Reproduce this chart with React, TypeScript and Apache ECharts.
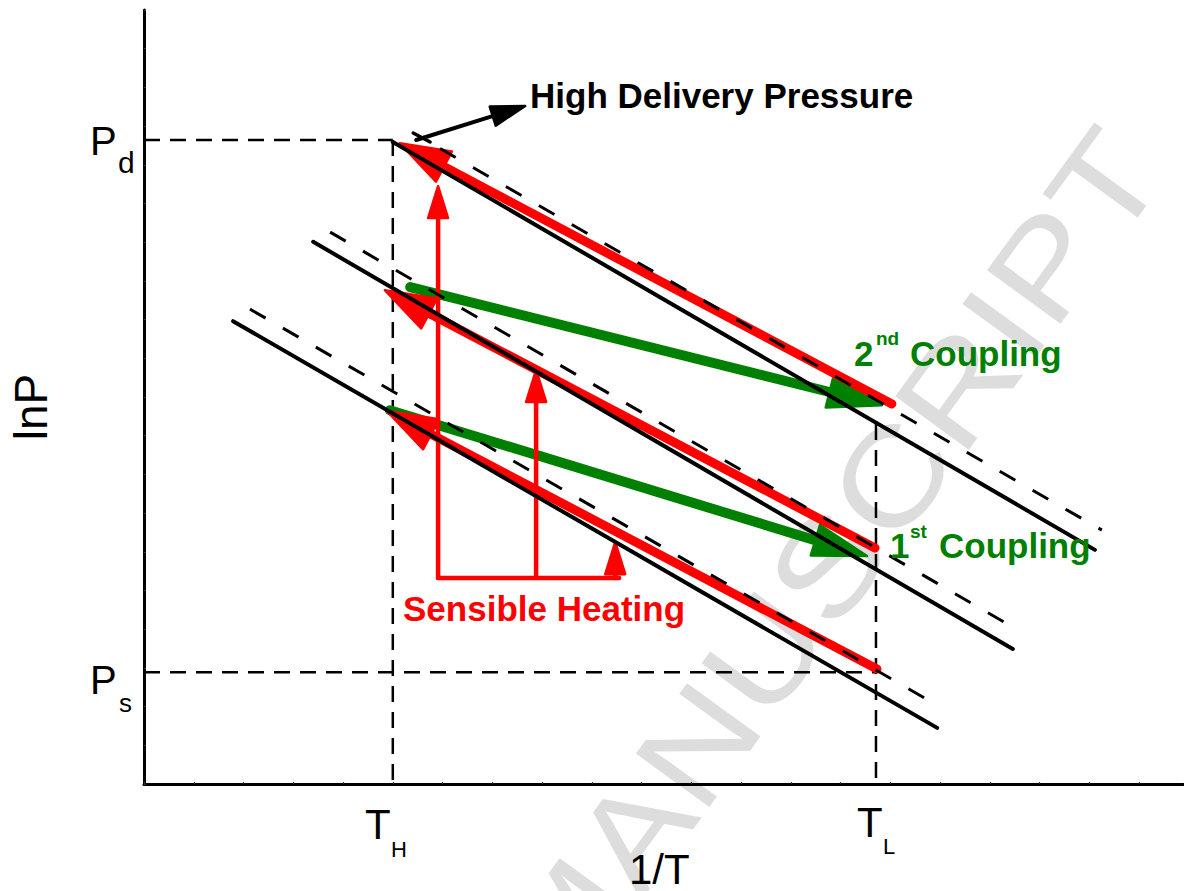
import React, { useEffect, useRef } from "react";
import * as echarts from "echarts";

// ---- data (axis units: 1/T on x, lnP on y) ----
const xTicks = { min: 0, max: 20.9, interval: 1 };
const yTicks = { min: 0, max: 20, interval: 1 };

// solid isosteres [x1, y1, x2, y2]
const isosteres = [
  [5.0, 16.59, 19.11, 6.05],
  [3.4, 14.01, 17.46, 3.49],
  [1.79, 11.96, 15.94, 1.45],
];
// dashed (shifted) isosteres
const shiftedIsosteres = [
  [5.95, 16.42, 19.25, 6.56],
  [3.74, 14.26, 17.56, 3.98],
  [2.13, 12.27, 16.0, 1.99],
];
// dashed guides: Pd, TH, Ps, TL
const Pd = 16.64;
const Ps = 2.89;
const TH = 5.0;
const TL = 14.71;
const guideLines = [
  [0, Pd, TH, Pd],
  [TH, Pd, TH, 0],
  [0, Ps, TL, Ps],
  [TL, 9.3, TL, 0],
];
// red thick arrows (tail -> tip)
const desorptionArrows = [
  [15.03, 9.82, 5.14, 16.56],
  [14.69, 6.1, 4.84, 12.76],
  [14.73, 2.97, 4.88, 9.64],
];
// green coupling arrows
const couplingArrows = [
  [5.35, 12.84, 14.83, 9.79],
  [4.94, 9.66, 14.53, 5.89],
];
// sensible heating arrows
const heatingArrows = [
  [5.91, 5.32, 5.91, 15.45],
  [7.88, 5.32, 7.88, 10.7],
  [9.47, 5.32, 9.47, 6.25],
];
const heatingBase = [[5.91, 5.32, 9.55, 5.32]];
// high delivery pressure pointer
const pressureArrow = [[5.47, 16.64, 7.66, 17.52]];
const pressureTick = [[5.41, 16.82, 5.75, 16.59]];

const FONT = '"Liberation Sans", Arial, Helvetica, sans-serif';
const RED = "#ff0000";
const GREEN = "#008000";

function arrowSeries(
  name: string,
  data: number[][],
  color: string,
  width: number,
  headLen: number,
  headWidth: number,
  z: number
) {
  return {
    type: "custom",
    name,
    z,
    silent: true,
    data,
    encode: { x: [0, 2], y: [1, 3] },
    renderItem: (_params: any, api: any) => {
      const a = api.coord([api.value(0), api.value(1)]);
      const b = api.coord([api.value(2), api.value(3)]);
      const dx = b[0] - a[0];
      const dy = b[1] - a[1];
      const len = Math.hypot(dx, dy) || 1;
      const ux = dx / len;
      const uy = dy / len;
      const nx = -uy;
      const ny = ux;
      const children: any[] = [];
      if (headLen > 0) {
        const bx = b[0] - ux * headLen;
        const by = b[1] - uy * headLen;
        children.push({
          type: "line",
          shape: { x1: a[0], y1: a[1], x2: bx + ux * 4, y2: by + uy * 4 },
          style: { stroke: color, lineWidth: width, lineCap: "round" },
        });
        children.push({
          type: "polygon",
          shape: {
            points: [
              [b[0], b[1]],
              [bx + (nx * headWidth) / 2, by + (ny * headWidth) / 2],
              [bx - (nx * headWidth) / 2, by - (ny * headWidth) / 2],
            ],
          },
          style: { fill: color, stroke: color, lineWidth: 2.5, lineJoin: "round" },
        });
      } else {
        children.push({
          type: "line",
          shape: { x1: a[0], y1: a[1], x2: b[0], y2: b[1] },
          style: { stroke: color, lineWidth: width, lineCap: "round" },
        });
      }
      return { type: "group", children };
    },
  };
}

function segSeries(seg: number[], lineStyle: any, z: number) {
  return {
    type: "line",
    data: [
      [seg[0], seg[1]],
      [seg[2], seg[3]],
    ],
    symbol: "none",
    showSymbol: false,
    silent: true,
    z,
    lineStyle,
  };
}

function txt(
  text: string,
  x: number,
  y: number,
  size: number,
  color: string,
  bold = false,
  extra: any = {}
) {
  return {
    type: "text",
    x,
    y,
    z: 100,
    silent: true,
    ...extra,
    style: {
      text,
      fill: color,
      font: `${bold ? "bold " : ""}${size}px ${FONT}`,
      align: extra.align || "left",
      verticalAlign: "middle",
    },
  };
}

export default function App() {
  const ref = useRef<HTMLDivElement>(null);
  useEffect(() => {
    const chart = echarts.init(ref.current!, null, { renderer: "svg" });
    const axisCommon = {
      type: "value",
      axisLine: { show: true, lineStyle: { color: "#000", width: 3 } },
      axisTick: { show: true, inside: true, length: 2, lineStyle: { color: "#333", width: 1.2 } },
      axisLabel: { show: false },
      splitLine: { show: false },
    };
    const series: any[] = [
      ...guideLines.map((s) =>
        segSeries(s, { color: "#000", width: 2.5, type: [16, 10] }, 3)
      ),
      arrowSeries("coupling", couplingArrows, GREEN, 10, 54, 32, 4),
      arrowSeries("desorption", desorptionArrows, RED, 9, 50, 34, 5),
      arrowSeries("heating", heatingArrows, RED, 4.5, 32, 20, 6),
      arrowSeries("heatingBase", heatingBase, RED, 4.5, 0, 0, 6),
      ...isosteres.map((s) =>
        segSeries(s, { color: "#000", width: 4, cap: "round" }, 7)
      ),
      ...shiftedIsosteres.map((s) =>
        segSeries(s, { color: "#000", width: 3, type: [18, 20] }, 7)
      ),
      arrowSeries("pressure", pressureArrow, "#000", 4, 34, 20, 8),
      arrowSeries("pressureTick", pressureTick, "#000", 3.5, 0, 0, 8),
    ];
    const graphic: any[] = [
      {
        type: "text",
        x: 1133,
        y: 146,
        rotation: (54 * Math.PI) / 180,
        scaleX: 1.18,
        z: -10,
        silent: true,
        style: {
          text: "ACCEPTED MANUSCRIPT",
          fill: "#dddddd",
          font: `132px ${FONT}`,
          align: "right",
          verticalAlign: "middle",
        },
      },
      txt("High Delivery Pressure", 530, 95, 35, "#000", true),
      txt("Sensible Heating", 403, 608.5, 35, RED, true),
      txt("2", 854, 353.5, 35, GREEN, true),
      txt("nd", 876, 338.5, 19, GREEN, true),
      txt("Coupling", 910, 353.5, 35, GREEN, true),
      txt("1", 890, 545.5, 35, GREEN, true),
      txt("st", 910, 531.4, 19, GREEN, true),
      txt("Coupling", 939, 545.5, 35, GREEN, true),
      txt("P", 90, 141, 40, "#000"),
      txt("d", 118, 162.6, 30, "#000"),
      txt("P", 90, 680, 40, "#000"),
      txt("s", 119, 703, 26, "#000"),
      txt("T", 365, 824.5, 42, "#000"),
      txt("H", 391, 849.4, 22, "#000"),
      txt("T", 857, 822, 42, "#000"),
      txt("L", 883, 846.4, 22, "#000"),
      txt("1/T", 629, 869, 42, "#000"),
      txt("lnP", 30.5, 407, 46, "#000", false, {
        rotation: Math.PI / 2,
        align: "center",
      }),
    ];
    chart.setOption({
      animation: false,
      backgroundColor: "#ffffff",
      grid: { left: 144, top: 10, width: 1040, height: 774, containLabel: false },
      xAxis: { ...axisCommon, ...xTicks },
      yAxis: { ...axisCommon, ...yTicks },
      series,
      graphic,
    });
    return () => chart.dispose();
  }, []);
  return (
    <div
      ref={ref}
      style={{ position: "absolute", left: 0, top: 0, width: 1184, height: 891, background: "#fff" }}
    />
  );
}
